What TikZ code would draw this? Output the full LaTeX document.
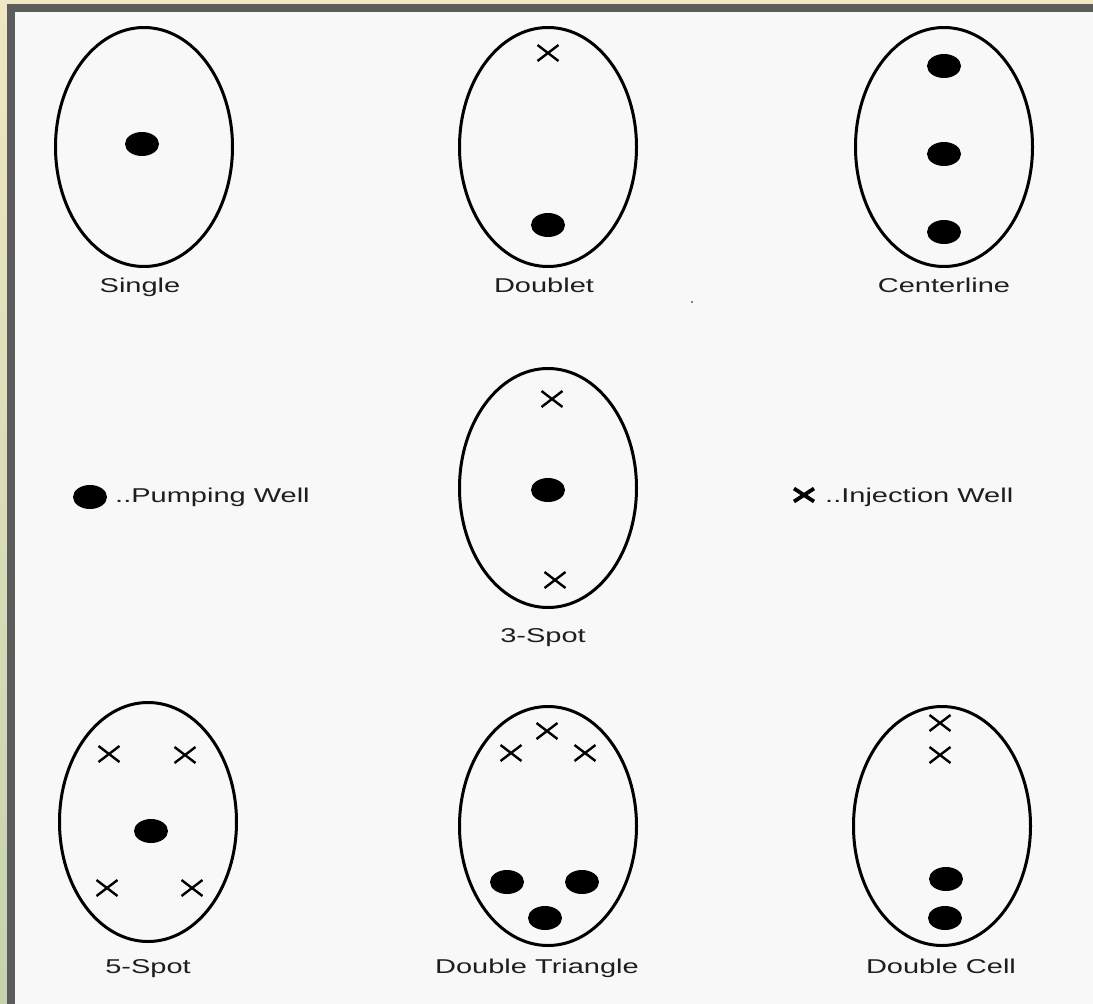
\documentclass[tikz,border=0pt]{standalone}
\usepackage{fontspec}
\newfontfamily\labfont[FakeStretch=1.45]{Liberation Sans}
\usetikzlibrary{shapes.geometric,shapes.misc}
\definecolor{paper}{HTML}{F8F8F8}
\definecolor{framegray}{HTML}{5C5C5C}
\definecolor{beige}{HTML}{EFE7C2}
\definecolor{sage}{HTML}{C6D2AE}
\definecolor{ink}{HTML}{1E1E1E}
\begin{document}
\begin{tikzpicture}[x=1pt,y=-1pt,
  field/.style={ellipse, draw=black, line width=3pt, minimum width=177pt, minimum height=239pt, inner sep=0pt},
  pump/.style={ellipse, fill=black, minimum width=34pt, minimum height=24pt, inner sep=0pt},
  inj/.style={cross out, draw=black, line width=2.4pt, minimum width=21pt, minimum height=16pt, inner sep=0pt, outer sep=0pt},
  injbold/.style={inj, line width=3.8pt, minimum width=20pt, minimum height=13pt},
  lab/.style={font=\labfont\fontsize{20}{24}\selectfont, text=ink, inner sep=0pt, anchor=base},
  legend/.style={lab, anchor=base west},
]
% canvas and frame
\useasboundingbox (0,0) rectangle (1093,1004);
\fill[paper] (0,0) rectangle (1093,1004);
\fill[beige] (0,0) rectangle (1093,4);
\shade[top color=beige, bottom color=sage] (0,0) rectangle (7,1004);
\fill[framegray] (7,4) rectangle (1093,12);
\fill[framegray] (7,4) rectangle (15,1004);

% --- Single
\node[field] (f1) at (144,147) {};
\node[pump] (s1) at (142,144) {};
\node[lab] (l1) at (140,292) {Single};

% --- Doublet
\node[field] (f2) at (548,147) {};
\node[inj] (d1) at (548,53) {};
\node[pump] (d2) at (548,225) {};
\node[lab] (l2) at (544,292) {Doublet};

% --- Centerline
\node[field] (f3) at (944,147) {};
\node[pump] (c1) at (944,66) {};
\node[pump] (c2) at (944,154) {};
\node[pump] (c3) at (944,232) {};
\node[lab] (l3) at (944,292) {Centerline};

% speck
\fill[gray] (691,301) rectangle (693,303);

% --- Legend
\node[pump] (lp) at (90,497) {};
\node[legend] (lpt) at (115,502) {..Pumping Well};
\node[injbold] (li) at (804,495) {};
\node[legend] (lit) at (825,502) {..Injection Well};

% --- 3-Spot
\node[field] (f4) at (548,488) {};
\node[inj] (t1) at (552,399) {};
\node[pump] (t2) at (548,490) {};
\node[inj] (t3) at (555,580) {};
\node[lab] (l4) at (543,642) {3-Spot};

% --- 5-Spot
\node[field] (f5) at (148,822) {};
\node[inj] (p1) at (109,754) {};
\node[inj] (p2) at (185,755) {};
\node[pump] (p3) at (151,831) {};
\node[inj] (p4) at (107,888) {};
\node[inj] (p5) at (192,888) {};
\node[lab] (l5) at (148,973) {5-Spot};

% --- Double Triangle
\node[field] (f6) at (548,826) {};
\node[inj] (q1) at (547,731) {};
\node[inj] (q2) at (511,753) {};
\node[inj] (q3) at (585,753) {};
\node[pump] (q4) at (507,882) {};
\node[pump] (q5) at (582,882) {};
\node[pump] (q6) at (545,918) {};
\node[lab] (l6) at (537,973) {Double Triangle};

% --- Double Cell
\node[field] (f7) at (942,826) {};
\node[inj] (r1) at (940,723) {};
\node[inj] (r2) at (940,755) {};
\node[pump] (r3) at (946,879) {};
\node[pump] (r4) at (945,918) {};
\node[lab] (l7) at (941,973) {Double Cell};
\end{tikzpicture}
\end{document}
